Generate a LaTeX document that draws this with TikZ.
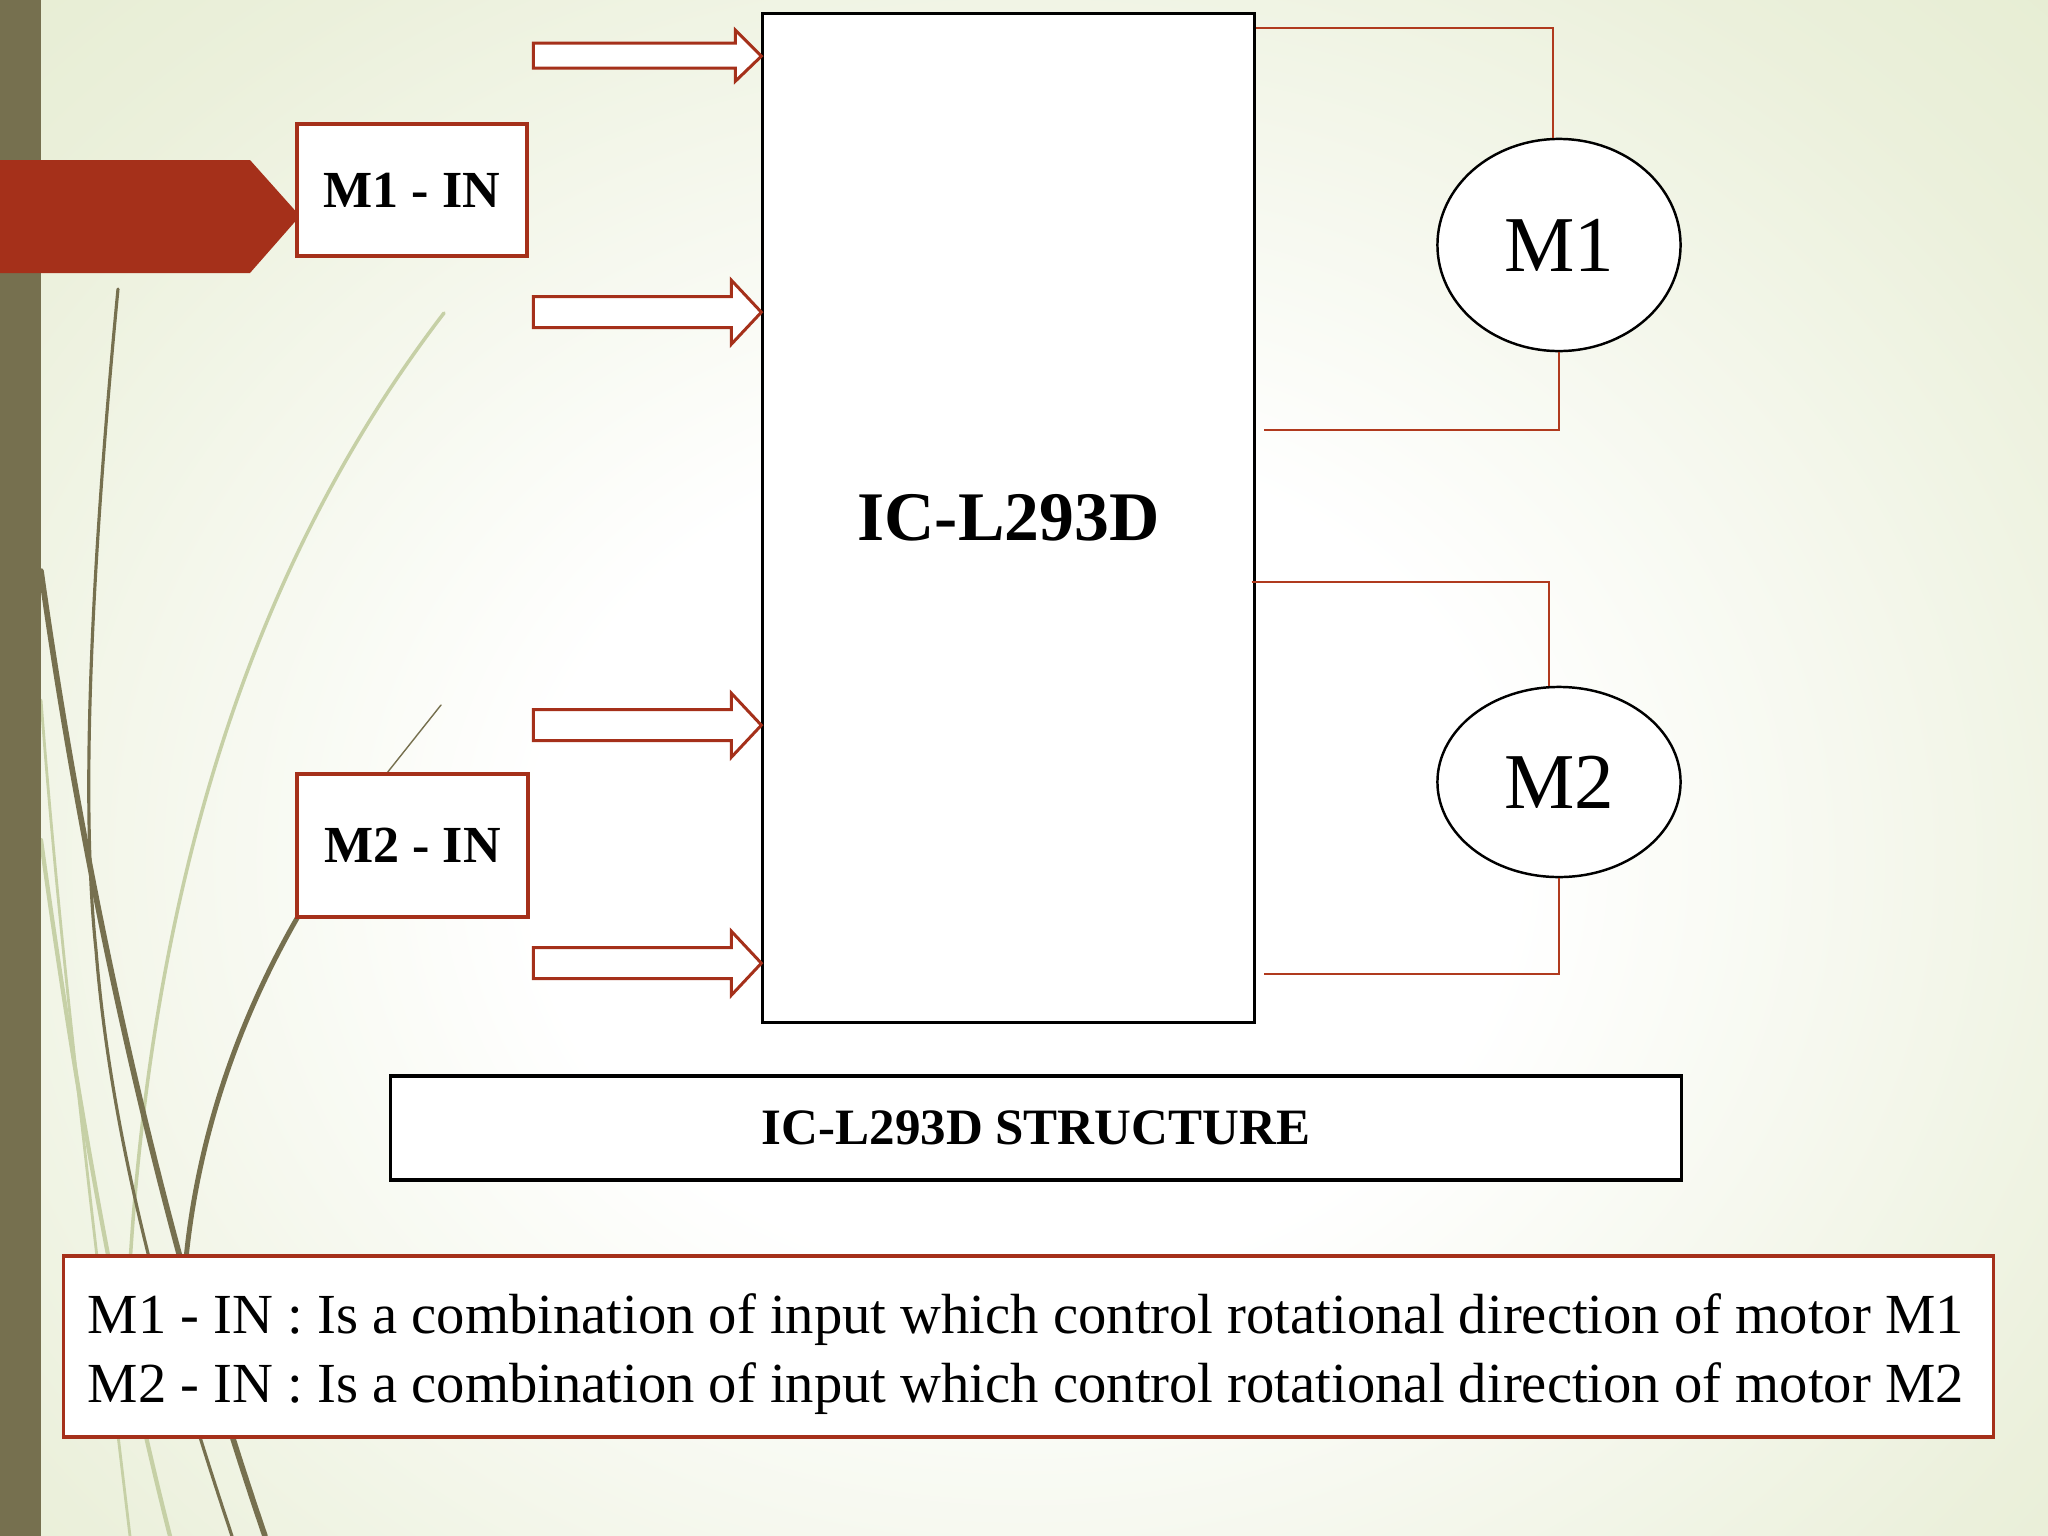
\documentclass[tikz,border=0pt]{standalone}
\usepackage{fontspec}
\setmainfont{Liberation Serif}
\usetikzlibrary{calc,shapes.geometric}
\definecolor{bgmid}{HTML}{EBF0DB}
\definecolor{bgout}{HTML}{DCE6C1}
\definecolor{olive}{HTML}{76704F}
\definecolor{brick}{HTML}{A5301A}
\definecolor{wirered}{HTML}{B03A1E}
\definecolor{pale}{HTML}{C6D0A6}
\pgfdeclareradialshading{bgrad}{\pgfpoint{0bp}{0bp}}{color(0bp)=(white); color(12bp)=(white); color(30bp)=(bgmid); color(50bp)=(bgout)}
\begin{document}
\begin{tikzpicture}[x=0.01cm,y=-0.01cm,
  redbox/.style={draw=brick,line width=0.9pt,fill=white,inner sep=0pt},
  blackbox/.style={draw=black,line width=0.85pt,fill=white,inner sep=0pt},
  motor/.style={ellipse,draw=black,line width=0.7pt,fill=white,inner sep=0pt,font=\fontsize{22.5}{26}\selectfont},
  wire/.style={draw=wirered,line width=0.45pt},
  blockarrow/.style={draw=brick,line width=0.85pt,fill=white,line join=miter},
  deco/.style={draw=olive,line cap=round},
  decopale/.style={draw=pale,line cap=round}
]
\useasboundingbox (0,0) rectangle (2048,1536);
\begin{scope}
\clip (0,0) rectangle (2048,1536);
\shade[shading=bgrad] (0,0) rectangle (2048,1720);
% background decoration
\draw[decopale,line width=1pt] (444,313) .. controls (270,540) and (150,850) .. (128,1300);
\draw[decopale,line width=1.2pt] (41,840) .. controls (70,1050) and (110,1300) .. (170,1536);
\draw[decopale,line width=0.8pt] (41,700) .. controls (60,950) and (90,1200) .. (130,1536);
\draw[deco,line width=0.9pt] (118,289) .. controls (92,560) and (80,800) .. (96,950) .. controls (112,1150) and (170,1350) .. (232,1536);
\draw[deco,line width=1.6pt] (41,571) .. controls (80,850) and (150,1200) .. (265,1536);
\draw[deco,line width=1.4pt] (330,865) .. controls (240,1000) and (190,1150) .. (183,1300);
\draw[deco,line width=0.4pt] (441,705) -- (387,773);
\fill[olive] (0,0) rectangle (41,1536);
\fill[brick] (0,160) -- (250,160) -- (300,216) -- (250,273) -- (0,273) -- cycle;
\end{scope}

% input boxes
\node[redbox,minimum width=2.30cm,minimum height=1.32cm,font=\bfseries\fontsize{14.8}{17}\selectfont] (m1in) at (412,190) {M1 - IN};
\node[redbox,minimum width=2.31cm,minimum height=1.43cm,font=\bfseries\fontsize{14.8}{17}\selectfont] (m2in) at (412.5,845.5) {M2 - IN};

% IC
\node[blackbox,minimum width=4.91cm,minimum height=10.08cm,font=\bfseries\fontsize{19.8}{23}\selectfont] (ic) at (1008.5,518) {IC-L293D};

% block arrows into the IC
\path (ic.north west) ++(0,44) coordinate (t1) ++(0,256) coordinate (t2) ++(0,413) coordinate (t3) ++(0,238) coordinate (t4);
\draw[blockarrow] (t1) -- ++(-26,-26) -- ++(0,13) -- ++(-202,0) -- ++(0,25) -- ++(202,0) -- ++(0,13) -- cycle;
\draw[blockarrow] (t2) -- ++(-30,-32) -- ++(0,16.5) -- ++(-198,0) -- ++(0,31) -- ++(198,0) -- ++(0,16.5) -- cycle;
\draw[blockarrow] (t3) -- ++(-30,-32) -- ++(0,16.5) -- ++(-198,0) -- ++(0,31) -- ++(198,0) -- ++(0,16.5) -- cycle;
\draw[blockarrow] (t4) -- ++(-30,-32) -- ++(0,16.5) -- ++(-198,0) -- ++(0,31) -- ++(198,0) -- ++(0,16.5) -- cycle;

% motors
\node[motor,minimum width=2.43cm,minimum height=2.12cm] (m1) at (1559,245) {M1};
\node[motor,minimum width=2.43cm,minimum height=1.90cm] (m2) at (1559,782) {M2};

% wires
\draw[wire] ($(ic.north east)+(0,16)$) -| ($(m1.north)+(-6,0)$);
\draw[wire] (m1.south) |- ($(ic.north east)+(8,418)$);
\draw[wire] ($(ic.north east)+(-4,570)$) -| ($(m2.north)+(-10,0)$);
\draw[wire] (m2.south) |- ($(ic.north east)+(8,962)$);

% title
\node[blackbox,line width=1pt,minimum width=12.90cm,minimum height=1.04cm,font=\bfseries\fontsize{14.5}{17}\selectfont] (title) at (1036,1128) {IC-L293D STRUCTURE};

% legend
\node[redbox,minimum width=19.29cm,minimum height=1.81cm] (legend) at (1028.5,1346.5) {};
\node[anchor=base west,inner sep=0pt,font=\fontsize{16.1}{19}\selectfont] (l1) at (87,1333) {M1 - IN : Is a combination of input which control rotational direction of motor M1};
\node[anchor=base west,inner sep=0pt,font=\fontsize{16.1}{19}\selectfont] (l2) at (87,1402) {M2 - IN : Is a combination of input which control rotational direction of motor M2};
\end{tikzpicture}
\end{document}
